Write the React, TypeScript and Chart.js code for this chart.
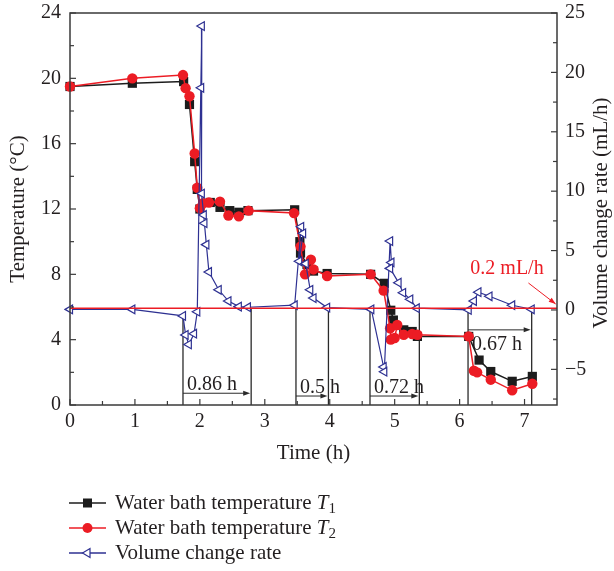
import React, { useEffect, useRef } from 'react';
import { Chart, registerables } from 'chart.js';

Chart.register(...registerables);

// ---- Data ----
const t1Time = [0, 0.96, 1.75, 1.84, 1.92, 1.96, 2.0, 2.16, 2.31, 2.46, 2.6, 2.74, 3.46, 3.54, 3.55, 3.65, 3.75, 3.96, 4.63, 4.84, 4.94, 4.98, 5.14, 5.27, 5.35, 6.14, 6.3, 6.48, 6.81, 7.12];
const t1Temp = [19.5, 19.7, 19.8, 18.4, 14.9, 13.2, 12.0, 12.4, 12.1, 11.9, 11.8, 11.9, 11.95, 10.0, 9.3, 8.6, 8.2, 8.05, 8.0, 7.45, 5.8, 5.2, 4.6, 4.5, 4.2, 4.2, 2.75, 2.05, 1.45, 1.75];

const t2Time = [0, 0.96, 1.74, 1.78, 1.84, 1.92, 1.96, 2.0, 2.05, 2.14, 2.31, 2.44, 2.6, 2.75, 3.45, 3.55, 3.62, 3.71, 3.75, 3.96, 4.63, 4.83, 4.93, 4.94, 5.0, 5.04, 5.14, 5.27, 5.35, 6.14, 6.22, 6.27, 6.48, 6.81, 7.12];
const t2Temp = [19.5, 20.0, 20.2, 19.4, 18.9, 15.4, 13.3, 12.05, 12.35, 12.4, 12.45, 11.6, 11.55, 11.9, 11.75, 9.7, 8.0, 8.9, 8.3, 7.9, 8.0, 7.0, 4.7, 4.0, 4.1, 4.9, 4.3, 4.35, 4.3, 4.2, 2.1, 2.0, 1.55, 0.9, 1.3];

const vTime = [0, 0.96, 1.74, 1.78, 1.83, 1.91, 1.96, 2.03, 2.02, 2.03, 2.06, 2.07, 2.1, 2.14, 2.29, 2.44, 2.6, 2.74, 3.46, 3.56, 3.59, 3.53, 3.63, 3.7, 3.75, 3.96, 4.64, 4.83, 4.84, 4.93, 4.95, 4.93, 5.06, 5.13, 5.24, 5.34, 6.14, 6.22, 6.29, 6.46, 6.81, 7.11];
const vRate = [0.05, 0.05, -0.5, -2.1, -2.9, -2.0, -0.15, 23.9, 18.7, 9.8, 8.0, 7.3, 5.5, 3.2, 1.7, 0.75, 0.28, 0.23, 0.4, 7.0, 6.45, 4.1, 3.9, 1.7, 1.0, 0.2, 0.05, -4.8, -5.2, 5.8, 4.0, 3.5, 2.3, 1.45, 0.9, 0.15, 0.0, 0.75, 1.5, 1.15, 0.4, 0.06];

const xTicks = [0, 1, 2, 3, 4, 5, 6, 7];
const tempTicks = [0, 4, 8, 12, 16, 20, 24];
const rateTicks = [-5, 0, 5, 10, 15, 20, 25];

// reference rate line and its label
const refRate = 0.15;
const refLabel = '0.2 mL/h';

// duration brackets (time in h, tops in mL/h, arrow level in °C)
const spanLabels = ['0.86 h', '0.5 h', '0.72 h', '0.67 h'];
const spanStart = [1.74, 3.48, 4.62, 6.13];
const spanEnd = [2.79, 3.98, 5.38, 7.11];
const spanStartTop = [-0.65, 0.4, 0.05, 0.0];
const spanEndTop = [0.15, 0.25, 0.2, 0.0];
const spanArrowTemp = [0.72, 0.55, 0.55, 4.6];
const spanLabelBelow = [false, false, false, true];

const legendNames = ['Water bath temperature ', 'Water bath temperature ', 'Volume change rate'];
const legendSymbol = ['T', 'T', ''];
const legendSub = ['1', '2', ''];

const xTitle = 'Time (h)';
const yTitle = 'Temperature (\u00B0C)';
const y1Title = 'Volume change rate (mL/h)';

// ---- styles ----
const SERIF = '"Liberation Serif", "Times New Roman", serif';
const BLACK = '#1c1c1c';
const RED = '#ec1c24';
const BLUE = '#2e3192';
const AXIS = '#3a3a3a';
const TEXT = '#231f20';

function arrowHead(ctx: CanvasRenderingContext2D, x: number, y: number, angle: number, len: number, half: number, color: string) {
  ctx.save();
  ctx.translate(x, y);
  ctx.rotate(angle);
  ctx.beginPath();
  ctx.moveTo(0, 0);
  ctx.lineTo(-len, -half);
  ctx.lineTo(-len, half);
  ctx.closePath();
  ctx.fillStyle = color;
  ctx.fill();
  ctx.restore();
}

function seg(ctx: CanvasRenderingContext2D, x1: number, y1: number, x2: number, y2: number) {
  ctx.beginPath();
  ctx.moveTo(x1, y1);
  ctx.lineTo(x2, y2);
  ctx.stroke();
}

const decor = {
  id: 'decor',
  beforeDatasetsDraw(chart: any) {
    const { ctx, chartArea: a, scales } = chart;
    const x = scales.x, y = scales.y, y1 = scales.y1;
    ctx.save();
    ctx.strokeStyle = '#2a2a2a';
    ctx.lineWidth = 1.3;
    ctx.font = `20px ${SERIF}`;
    ctx.fillStyle = TEXT;
    spanLabels.forEach((lab, i) => {
      const xs = x.getPixelForValue(spanStart[i]);
      const xe = x.getPixelForValue(spanEnd[i]);
      const ys = y1.getPixelForValue(spanStartTop[i]);
      const ye = y1.getPixelForValue(spanEndTop[i]);
      const ya = y.getPixelForValue(spanArrowTemp[i]);
      seg(ctx, xs, a.bottom, xs, ys);
      seg(ctx, xe, a.bottom, xe, ye);
      ctx.lineWidth = 1;
      seg(ctx, xs, ya, xe - 5, ya);
      arrowHead(ctx, xe - 1, ya, 0, 7, 2.5, '#2a2a2a');
      ctx.lineWidth = 1.3;
      ctx.textAlign = 'left';
      if (spanLabelBelow[i]) {
        ctx.textBaseline = 'middle';
        ctx.fillText(lab, xs + 4, ya + 15);
      } else {
        ctx.textBaseline = 'alphabetic';
        ctx.fillText(lab, xs + 4, ya - 3);
      }
    });
    ctx.restore();
  },
  afterDatasetsDraw(chart: any) {
    const { ctx, chartArea: a, scales } = chart;
    const x = scales.x, y = scales.y, y1 = scales.y1;
    ctx.save();
    // red reference line
    const yr = y1.getPixelForValue(refRate);
    ctx.strokeStyle = RED;
    ctx.lineWidth = 1.5;
    seg(ctx, a.left, yr, a.right, yr);
    ctx.font = `20px ${SERIF}`;
    ctx.fillStyle = RED;
    ctx.textAlign = 'center';
    ctx.textBaseline = 'middle';
    ctx.fillText(refLabel, x.getPixelForValue(6.73), y1.getPixelForValue(3.5));
    const ax1 = x.getPixelForValue(7.06), ay1 = y1.getPixelForValue(2.27);
    const ax2 = x.getPixelForValue(7.48), ay2 = y1.getPixelForValue(0.5);
    ctx.lineWidth = 1;
    seg(ctx, ax1, ay1, ax2, ay2);
    arrowHead(ctx, ax2, ay2, Math.atan2(ay2 - ay1, ax2 - ax1), 7, 2.5, RED);

    // frame
    ctx.strokeStyle = AXIS;
    ctx.lineWidth = 1.5;
    ctx.strokeRect(a.left, a.top, a.right - a.left, a.bottom - a.top);
    // ticks (inward)
    ctx.lineWidth = 1.2;
    for (let k = 0; k <= 14; k++) {
      const v = k / 2;
      const px = x.getPixelForValue(v);
      seg(ctx, px, a.bottom, px, a.bottom - (k % 2 === 0 ? 6 : 4));
    }
    for (let k = 0; k <= 12; k++) {
      const py = y.getPixelForValue(k * 2);
      seg(ctx, a.left, py, a.left + (k % 2 === 0 ? 6 : 4), py);
    }
    for (let k = -3; k <= 10; k++) {
      const py = y1.getPixelForValue(k * 2.5);
      seg(ctx, a.right, py, a.right - (k % 2 === 0 ? 6 : 4), py);
    }
    // titles
    ctx.fillStyle = TEXT;
    ctx.font = `21px ${SERIF}`;
    ctx.textAlign = 'center';
    ctx.textBaseline = 'middle';
    ctx.fillText(xTitle, (a.left + a.right) / 2, 453);
    ctx.save();
    ctx.translate(18, (a.top + a.bottom) / 2);
    ctx.rotate(-Math.PI / 2);
    ctx.fillText(yTitle, 0, 0);
    ctx.restore();
    ctx.save();
    ctx.translate(601, (a.top + a.bottom) / 2 + 4);
    ctx.rotate(-Math.PI / 2);
    ctx.fillText(y1Title, 0, 0);
    ctx.restore();
    ctx.restore();
  },
  afterDraw(chart: any) {
    const { ctx } = chart;
    ctx.save();
    const rows = [503, 528, 553];
    const colors = [BLACK, RED, BLUE];
    rows.forEach((ry, i) => {
      ctx.strokeStyle = colors[i];
      ctx.lineWidth = 1.5;
      seg(ctx, 69, ry, 106, ry);
      const cx = 87.5;
      if (i === 0) {
        ctx.fillStyle = BLACK;
        ctx.fillRect(cx - 4.5, ry - 4.5, 9, 9);
      } else if (i === 1) {
        ctx.fillStyle = RED;
        ctx.beginPath();
        ctx.arc(cx, ry, 5, 0, Math.PI * 2);
        ctx.fill();
      } else {
        ctx.fillStyle = '#fff';
        ctx.lineWidth = 1.2;
        ctx.beginPath();
        ctx.moveTo(cx - 5, ry);
        ctx.lineTo(cx + 2.5, ry - 4.5);
        ctx.lineTo(cx + 2.5, ry + 4.5);
        ctx.closePath();
        ctx.fill();
        ctx.stroke();
      }
      ctx.fillStyle = TEXT;
      ctx.textAlign = 'left';
      ctx.textBaseline = 'middle';
      ctx.font = `21px ${SERIF}`;
      let tx = 115;
      ctx.fillText(legendNames[i], tx, ry);
      tx += ctx.measureText(legendNames[i]).width;
      if (legendSymbol[i]) {
        ctx.font = `italic 21px ${SERIF}`;
        ctx.fillText(legendSymbol[i], tx, ry);
        tx += ctx.measureText(legendSymbol[i]).width;
        ctx.font = `15px ${SERIF}`;
        ctx.fillText(legendSub[i], tx, ry + 6);
      }
    });
    ctx.restore();
  },
};

export default function App() {
  const ref = useRef<HTMLCanvasElement | null>(null);
  useEffect(() => {
    if (!ref.current) return;
    const tickFont = { family: SERIF, size: 20 };
    const chart = new Chart(ref.current, {
      type: 'line',
      data: {
        datasets: [
          {
            label: 'Volume change rate',
            data: vTime.map((t, i) => ({ x: t, y: vRate[i] })),
            yAxisID: 'y1',
            borderColor: BLUE,
            borderWidth: 1.2,
            pointStyle: 'triangle',
            pointRotation: -90,
            pointRadius: 5,
            pointBackgroundColor: '#ffffff',
            pointBorderColor: BLUE,
            pointBorderWidth: 1.2,
            tension: 0,
            clip: false,
            order: 0,
          },
          {
            label: 'Water bath temperature T2',
            data: t2Time.map((t, i) => ({ x: t, y: t2Temp[i] })),
            yAxisID: 'y',
            borderColor: RED,
            borderWidth: 1.5,
            pointStyle: 'circle',
            pointRadius: 5.2,
            pointBackgroundColor: RED,
            pointBorderColor: RED,
            pointBorderWidth: 0,
            tension: 0,
            clip: false,
            order: 1,
          },
          {
            label: 'Water bath temperature T1',
            data: t1Time.map((t, i) => ({ x: t, y: t1Temp[i] })),
            yAxisID: 'y',
            borderColor: BLACK,
            borderWidth: 1.5,
            pointStyle: 'rect',
            pointRadius: 6.5,
            pointBackgroundColor: BLACK,
            pointBorderColor: BLACK,
            pointBorderWidth: 0,
            tension: 0,
            clip: false,
            order: 2,
          },
        ] as any,
      },
      options: {
        animation: false,
        responsive: false,
        devicePixelRatio: 1,
        layout: { padding: { left: 0, right: 0, top: 13, bottom: 106 } },
        plugins: { legend: { display: false }, tooltip: { enabled: false } },
        scales: {
          x: {
            type: 'linear',
            position: 'bottom',
            min: 0,
            max: 7.5,
            afterBuildTicks: (s: any) => { s.ticks = xTicks.map((v) => ({ value: v })); },
            afterFit: (s: any) => { s.height = 60; s.paddingLeft = 0; s.paddingRight = 0; },
            grid: { display: false, drawTicks: false },
            border: { display: false },
            ticks: { font: tickFont, color: TEXT, padding: 5, maxRotation: 0, autoSkip: false },
          },
          y: {
            position: 'left',
            min: 0,
            max: 24,
            afterBuildTicks: (s: any) => { s.ticks = tempTicks.map((v) => ({ value: v })); },
            afterFit: (s: any) => { s.width = 70; s.paddingTop = 0; s.paddingBottom = 0; },
            grid: { display: false, drawTicks: false },
            border: { display: false },
            ticks: { font: tickFont, color: TEXT, padding: 9 },
          },
          y1: {
            position: 'right',
            min: -8,
            max: 25,
            afterBuildTicks: (s: any) => { s.ticks = rateTicks.map((v) => ({ value: v })); },
            afterFit: (s: any) => { s.width = 57; s.paddingTop = 0; s.paddingBottom = 0; },
            grid: { display: false, drawTicks: false },
            border: { display: false },
            ticks: {
              font: tickFont,
              color: TEXT,
              padding: 8,
              callback: (v: any) => (v < 0 ? '\u2212' + Math.abs(v) : String(v)),
            },
          },
        },
      } as any,
      plugins: [decor],
    });
    return () => chart.destroy();
  }, []);

  return (
    <div style={{ position: 'absolute', left: 0, top: 0, width: 614, height: 571, background: '#fff' }}>
      <canvas ref={ref} width={614} height={571} style={{ display: 'block' }} />
    </div>
  );
}
